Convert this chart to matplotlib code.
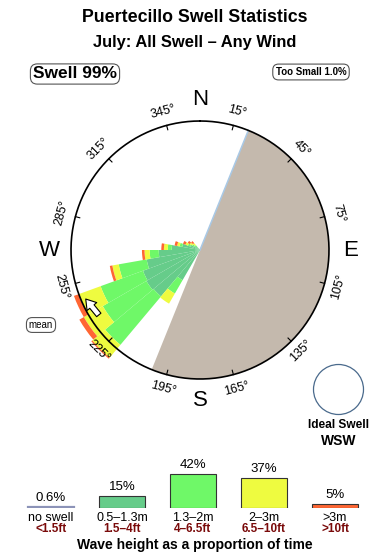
import numpy as np
import matplotlib
matplotlib.use("Agg")
import matplotlib.pyplot as plt

plt.rcParams["font.family"] = ["Liberation Sans", "DejaVu Sans"]

title = "Puertecillo Swell Statistics"
subtitle = "July: All Swell \u2013 Any Wind"
swell_pct = 99
too_small_pct = 1.0
ideal_dir = "WSW"

# swell rose: direction bins (deg, coming from), band lengths as a fraction of the ring radius
directions = [215, 225, 235, 245, 255, 265, 275, 285, 295, 305, 315]
band_small = [0.27, 0.47, 0.48, 0.47, 0.42, 0.32, 0.22, 0.14, 0.08, 0.05, 0.03]
band_mid = [0.12, 0.49, 0.39, 0.35, 0.22, 0.07, 0.03, 0.02, 0.02, 0.02, 0.02]
band_big = [0.09, 0.13, 0.17, 0.18, 0.05, 0.04, 0.03, 0.02, 0.02, 0.02, 0.02]
band_huge = [0.0, 0.01, 0.04, 0.04, 0.02, 0.02, 0.02, 0.02, 0.02, 0.02, 0.02]
bin_width = 10
land_from, land_to = 22, 202
mean_dir = 242
degree_ticks = [15, 45, 75, 105, 135, 165, 195, 225, 255, 285, 315, 345]

# legend
band_names = ["no swell", "0.5\u20131.3m", "1.3\u20132m", "2\u20133m", ">3m"]
band_feet = ["<1.5ft", "1.5\u20134ft", "4\u20136.5ft", "6.5\u201310ft", ">10ft"]
band_pct = [0.6, 15, 42, 37, 5]
band_colors = ["#8c93b8", "#66cc8a", "#6ff868", "#eefb40", "#ff6633"]

W, H = 390, 560
fig = plt.figure(figsize=(W / 100, H / 100), dpi=100)

# background canvas in pixel units for text and boxes
bg = fig.add_axes([0, 0, 1, 1])
bg.set_xlim(0, W)
bg.set_ylim(H, 0)
bg.axis("off")

bg.text(195, 18, title, ha="center", va="center", fontsize=12.8, weight="bold")
bg.text(195, 43, subtitle, ha="center", va="center", fontsize=11.9, weight="bold")
bg.text(75, 74, f"Swell {swell_pct}%", ha="center", va="center", fontsize=12.5,
        weight="bold", bbox=dict(boxstyle="round,pad=0.15,rounding_size=0.4",
                                 fc="white", ec="#555555", lw=0.8))
bg.text(311, 72, f"Too Small {too_small_pct:.1f}%", ha="center", va="center",
        fontsize=7, weight="bold", bbox=dict(boxstyle="round,pad=0.3,rounding_size=0.6",
                                             fc="white", ec="#555555", lw=0.8))
bg.text(41, 325, "mean", ha="center", va="center", fontsize=7,
        bbox=dict(boxstyle="round,pad=0.25,rounding_size=0.6",
                  fc="white", ec="#555555", lw=0.8))

# ideal swell marker
bg.add_patch(plt.Circle((338.5, 389.5), 25, fc="white", ec="#4a6a8c", lw=0.9))
bg.text(339, 425, "Ideal Swell", ha="center", va="center", fontsize=8.6, weight="bold")
bg.text(339, 441, ideal_dir, ha="center", va="center", fontsize=10, weight="bold")
bg.text(195, 545, "Wave height as a proportion of time", ha="center", va="center",
        fontsize=10, weight="bold")

# polar rose
R_PX, RMAX = 129, 1.12
half = R_PX * RMAX
ax = fig.add_axes([(200 - half) / W, 1 - (250 + half) / H, 2 * half / W, 2 * half / H],
                  projection="polar")
ax.set_theta_zero_location("N")
ax.set_theta_direction(-1)
ax.set_ylim(0, RMAX)
ax.set_axis_off()

ax.bar(np.radians((land_from + land_to) / 2), 1.0, width=np.radians(land_to - land_from),
       color="#c4b9ad", lw=0, zorder=1)
ax.plot([np.radians(land_from)] * 2, [0, 1], color="#a9c9e6", lw=1.1, zorder=1.5)

th = np.radians(directions)
bottom = np.zeros(len(directions))
for seg, col in zip([band_small, band_mid, band_big, band_huge], band_colors[1:]):
    ax.bar(th, seg, width=np.radians(bin_width), bottom=bottom, color=col, lw=0, zorder=2)
    bottom += np.array(seg)

ring = np.linspace(0, 2 * np.pi, 400)
ax.plot(ring, np.ones_like(ring), color="black", lw=1.2, zorder=3)

for d in degree_ticks:
    t = np.radians(d)
    ax.plot([t, t], [0.965, 1.0], color="black", lw=0.8, zorder=3)
    rot = -d
    while rot <= -90:
        rot += 180
    ax.text(t, 1.11, f"{d}\u00b0", ha="center", va="center", rotation=rot,
            rotation_mode="anchor", fontsize=9)

for lab, d in zip("NESW", [0, 90, 180, 270]):
    ax.text(np.radians(d), 1.165, lab, ha="center", va="center", fontsize=16)

ax.annotate("", xy=(np.radians(mean_dir + 6), 0.97), xytext=(np.radians(mean_dir - 6), 0.93),
            arrowprops=dict(arrowstyle="simple,head_length=0.7,head_width=0.9,tail_width=0.4",
                            fc="white", ec="black", lw=0.8), zorder=4)

# legend bars: 0.8 px per percent
lg = fig.add_axes([15.5 / W, 1 - 507.5 / H, 355 / W, 50 / H])
lg.set_xlim(-0.5, 4.5)
lg.set_ylim(0, 62.5)
lg.axis("off")
xs = np.arange(len(band_pct))
lg.bar(xs, band_pct, width=0.634, color=band_colors,
       edgecolor=[band_colors[0]] + ["#333333"] * 4, lw=[1.6, 0.8, 0.8, 0.8, 0.8])
for x, p, n, f in zip(xs, band_pct, band_names, band_feet):
    lg.annotate(f"{p:g}%", (x, p), xytext=(0, 6.3), textcoords="offset points",
                ha="center", va="center", fontsize=9.5)
    lg.annotate(n, (x, 0), xytext=(0, -7.8), textcoords="offset points",
                ha="center", va="center", fontsize=9)
    lg.annotate(f, (x, 0), xytext=(0, -15.6), textcoords="offset points",
                ha="center", va="center", fontsize=8.5, weight="bold", color="#7a0a0a")

fig.savefig("out.png", dpi=100)
